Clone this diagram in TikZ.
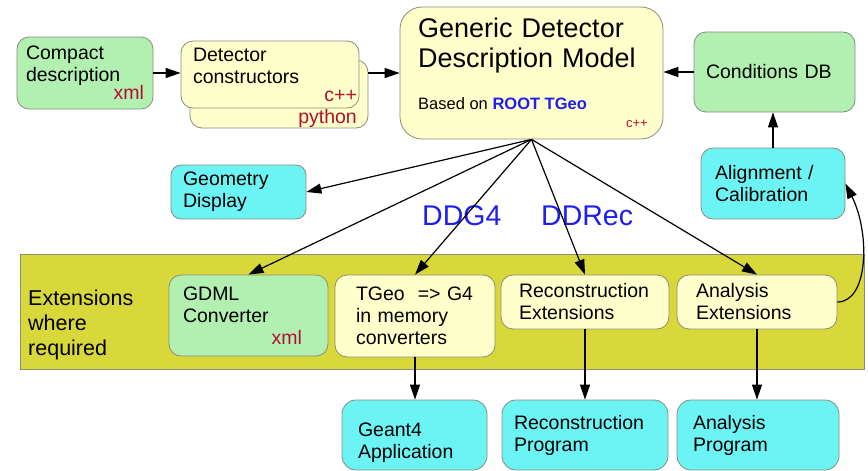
\documentclass[tikz,border=0pt]{standalone}
\usepackage{fontspec}
\setmainfont{Liberation Sans}
\usetikzlibrary{arrows.meta, calc}

\definecolor{ddgreen}{HTML}{B2F0B2}
\definecolor{ddyellow}{HTML}{FFFFCC}
\definecolor{ddcyan}{HTML}{6CF4F4}
\definecolor{ddband}{HTML}{D8D83A}
\definecolor{ddline}{HTML}{8C8C7A}
\definecolor{ddred}{HTML}{B0102E}
\definecolor{ddblue}{HTML}{1E1EF0}

\begin{document}
\begin{tikzpicture}[x=1pt, y=-1pt,
    box/.style={draw=ddline, line width=0.8pt, rounded corners=12pt, align=left, inner ysep=0pt, font=\fontsize{19.5}{22}\selectfont},
    greenbox/.style={box, fill=ddgreen},
    yellowbox/.style={box, fill=ddyellow},
    cyanbox/.style={box, fill=ddcyan},
    band/.style={draw=ddline, line width=0.8pt, fill=ddband, inner sep=0pt},
    plaintext/.style={inner sep=0pt, align=left},
    lang/.style={plaintext, text=ddred},
    ddtag/.style={plaintext, text=ddblue, font=\fontsize{28.5}{30}\selectfont},
    arrow/.style={-{Triangle[length=15pt, width=10pt]}, line width=1.2pt}
]
\useasboundingbox (0,0) rectangle (868,471);

% Extensions band
\node[band, minimum width=844pt, minimum height=115pt] (band) at (442,311.5) {};
\node[plaintext, anchor=base west, text width=130pt, font=\fontsize{21.5}{25}\selectfont] (bandtxt) at (28,305) {Extensions\\where\\required};

% Top row
\node[greenbox, minimum width=136pt, minimum height=72pt, inner xsep=9pt, text width=118pt] (compact) at (85,73)
    {Compact\\description\\[-4pt]\hfill\textcolor{ddred}{xml}};
\node[yellowbox, minimum width=178pt, minimum height=68pt] (detback) at (279,94) {};
\node[lang, anchor=base east, font=\fontsize{19.5}{22}\selectfont] (detpython) at (357,123) {python};
\node[yellowbox, minimum width=178pt, minimum height=67pt, inner xsep=12pt, text width=154pt] (det) at (270,74.5)
    {Detector\\constructors\\[-4pt]\hfill\textcolor{ddred}{c++}\kern-10pt};

\node[yellowbox, rounded corners=22pt, minimum width=263pt, minimum height=132pt] (gddm) at (531.5,73) {};
\node[plaintext, anchor=base west, text width=240pt, font=\fontsize{27}{30}\selectfont] (gddmtitle) at (418,37)
    {Generic Detector\\Description Model};
\node[plaintext, anchor=base west, font=\fontsize{16.5}{19}\selectfont] (gddmbase) at (418,109)
    {Based on \textbf{\textcolor{ddblue}{ROOT TGeo}}};
\node[lang, anchor=base east, font=\fontsize{13}{15}\selectfont] (gddmcpp) at (648,127) {c++};

\node[greenbox, minimum width=161pt, minimum height=80pt, inner xsep=12pt, text width=137pt] (conddb) at (774.5,72) {Conditions DB};

% Middle row
\node[cyanbox, rounded corners=10pt, minimum width=135pt, minimum height=54pt, inner xsep=12pt, text width=111pt] (geo) at (238.5,192) {Geometry\\Display};
\node[cyanbox, minimum width=144pt, minimum height=71pt, inner xsep=14pt, text width=116pt] (align) at (773,183.5) {Alignment /\\Calibration};
\node[ddtag, anchor=base west] (ddg4) at (422,225) {DDG4};
\node[ddtag, anchor=base west] (ddrec) at (541,225) {DDRec};

% Extensions
\node[greenbox, minimum width=159pt, minimum height=81pt, inner xsep=14pt, text width=131pt] (gdml) at (248.5,315.5)
    {GDML\\Converter\\\hfill\textcolor{ddred}{xml}\kern12pt};
\node[yellowbox, minimum width=160pt, minimum height=82pt, inner xsep=21pt, text width=118pt] (tgeo) at (415,316)
    {TGeo~~=> G4\\in memory\\converters};
\node[yellowbox, minimum width=168pt, minimum height=54pt, inner xsep=18pt, text width=132pt] (recext) at (585,302) {Reconstruction\\Extensions};
\node[yellowbox, minimum width=160pt, minimum height=54pt, inner xsep=19pt, text width=122pt] (anaext) at (757,302) {Analysis\\Extensions};

% Programs
\node[cyanbox, rounded corners=14pt, minimum width=145pt, minimum height=70pt, inner xsep=16pt, text width=113pt] (g4app) at (414.5,435)
    {\rule{0pt}{30pt}Geant4\\Application};
\node[cyanbox, rounded corners=14pt, minimum width=166pt, minimum height=70pt, inner xsep=12pt, text width=142pt] (recprog) at (585,435) {Reconstruction\\Program};
\node[cyanbox, rounded corners=14pt, minimum width=162pt, minimum height=70pt, inner xsep=16pt, text width=130pt] (anaprog) at (758,435) {Analysis\\Program};

% Edges
\draw[arrow] (compact.east) -- (compact.east -| det.west);
\draw[arrow] (detback.east |- gddm.west) -- (gddm.west);
\draw[arrow] (conddb.west) -- (conddb.west -| gddm.east);
\draw[arrow] (align.north) -- (align.north |- conddb.south);
\draw[arrow] (gddm.south) -- (geo.east);
\draw[arrow] (gddm.south) -- (gdml.north);
\draw[arrow] (gddm.south) -- (tgeo.north);
\draw[arrow] (gddm.south) -- (recext.north);
\draw[arrow] (gddm.south) -- (anaext.north);
\draw[arrow] (tgeo.south) -- (tgeo.south |- g4app.north);
\draw[arrow] (recext.south) -- (recext.south |- recprog.north);
\draw[arrow] (anaext.south) -- (anaext.south |- anaprog.north);
\draw[arrow] (anaext.east) .. controls +(31,0) and +(25,50) .. (align.east);

\end{tikzpicture}
\end{document}
